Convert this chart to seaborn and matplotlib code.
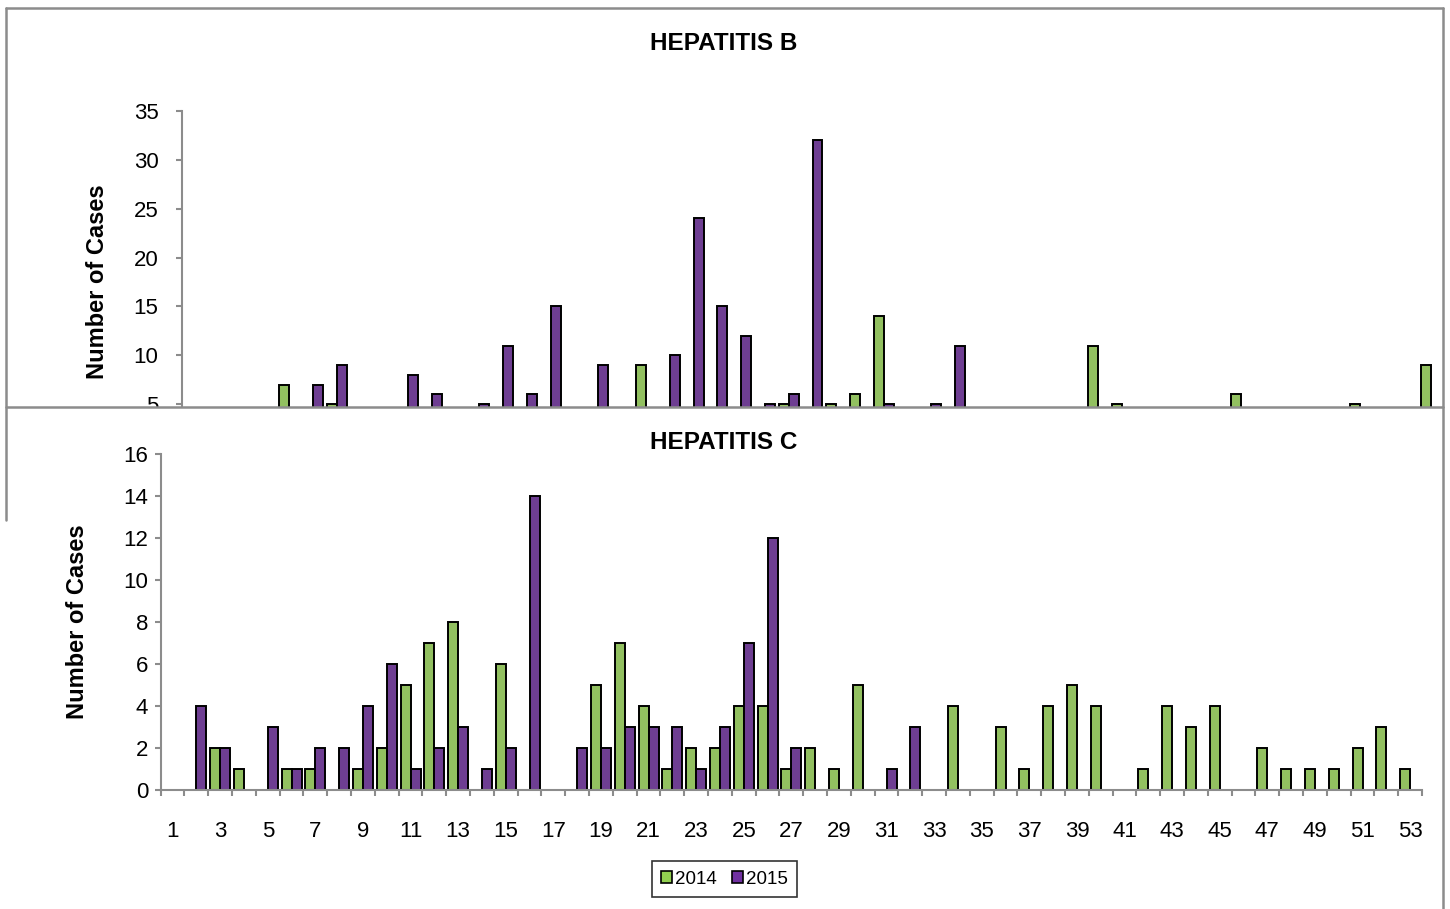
import numpy as np
import pandas as pd
import seaborn as sns
import matplotlib.pyplot as plt
from matplotlib.patches import Rectangle, Patch
from matplotlib.lines import Line2D

sns.set_style('white')
plt.rcParams['font.family'] = ['Liberation Sans', 'DejaVu Sans']
plt.rcParams['text.color'] = 'black'
plt.rcParams['axes.labelcolor'] = 'black'
plt.rcParams['xtick.labelcolor'] = 'black'
plt.rcParams['ytick.labelcolor'] = 'black'

weeks = list(range(1, 54))
years = ['2014', '2015']

# Hepatitis B (lower part of this panel is hidden behind the Hepatitis C chart)
hepb_2014 = [0, 0, 0, 0, 7, 0, 5, 0, 0, 0,
             0, 0, 0, 0, 0, 0, 0, 0, 0, 9,
             0, 0, 0, 0, 0, 5, 0, 5, 6, 14,
             0, 0, 0, 0, 0, 0, 0, 0, 11, 5,
             0, 0, 0, 0, 6, 0, 0, 0, 0, 5,
             0, 0, 9]
hepb_2015 = [0, 0, 0, 0, 0, 7, 9, 0, 0, 8,
             6, 0, 5, 11, 6, 15, 0, 9, 0, 0,
             10, 24, 15, 12, 5, 6, 32, 0, 0, 5,
             0, 5, 11, 0, 0, 0, 0, 0, 0, 0,
             0, 0, 0, 0, 0, 0, 0, 0, 0, 0,
             0, 0, 0]

# Hepatitis C
hepc_2014 = [0, 0, 2, 1, 0, 1, 1, 0, 1, 2,
             5, 7, 8, 0, 6, 0, 0, 0, 5, 7,
             4, 1, 2, 2, 4, 4, 1, 2, 1, 5,
             0, 0, 0, 4, 0, 3, 1, 4, 5, 4,
             0, 1, 4, 3, 4, 0, 2, 1, 1, 1,
             2, 3, 1]
hepc_2015 = [0, 4, 2, 0, 3, 1, 2, 2, 4, 6,
             1, 2, 3, 1, 2, 14, 0, 2, 2, 3,
             3, 3, 1, 3, 7, 12, 2, 0, 0, 0,
             1, 3, 0, 0, 0, 0, 0, 0, 0, 0,
             0, 0, 0, 0, 0, 0, 0, 0, 0, 0,
             0, 0, 0]

colors = {'2014': '#92D050', '2015': '#7030A0'}
gray = '#8c8c8c'


def long_df(a, b):
    return pd.DataFrame({'week': weeks * 2,
                         'cases': a + b,
                         'year': ['2014'] * len(weeks) + ['2015'] * len(weeks)})


W, H = 1450, 909
fig = plt.figure(figsize=(W / 100, H / 100), dpi=100)


def fx(px):
    return px / W


def fy(py):
    return 1 - py / H


def style_axis(ax, ymax, ystep, ypad):
    ax.set_xlim(-0.5, 52.5)
    ax.set_ylim(0, ymax)
    ax.set_yticks(np.arange(0, ymax + 1, ystep))
    sns.despine(ax=ax)
    for s in ['left', 'bottom']:
        ax.spines[s].set_color(gray)
        ax.spines[s].set_linewidth(1.5)
    ax.tick_params(axis='y', which='major', length=4, width=1.5, color=gray,
                   labelsize=16, pad=ypad, left=True, labelcolor='black')
    ax.set_xlabel('')
    for p in ax.patches:
        if p.get_height() == 0:
            p.set_visible(False)


# --- top panel: Hepatitis B
ax1 = fig.add_axes([fx(182), fy(453), fx(1443 - 182), (453 - 111) / H])
ax1.set_zorder(0)
sns.barplot(data=long_df(hepb_2014, hepb_2015), x='week', y='cases', hue='year',
            order=weeks, hue_order=years, palette=colors, width=0.84,
            edgecolor='black', linewidth=1.4, errorbar=None, legend=False, ax=ax1)
style_axis(ax1, 35, 5, 13)
ax1.set_xticks([])
ax1.set_ylabel('Number of Cases', fontsize=17, fontweight='bold', va='center')
ax1.yaxis.set_label_coords((98 - 182) / (1443 - 182), 0.5)

# white chart area of the second chart covers the lower part of the first one
cover = Rectangle((0, 0), fx(1443), fy(407), transform=fig.transFigure,
                  facecolor='white', edgecolor='none', zorder=1)
fig.add_artist(cover)

# --- bottom panel: Hepatitis C
ax2 = fig.add_axes([fx(160.7), fy(790), fx(1422 - 160.7), (790 - 454) / H])
ax2.set_zorder(2)
ax2.patch.set_alpha(0)
sns.barplot(data=long_df(hepc_2014, hepc_2015), x='week', y='cases', hue='year',
            order=weeks, hue_order=years, palette=colors, width=0.84,
            edgecolor='black', linewidth=1.4, errorbar=None, legend=False, ax=ax2)
style_axis(ax2, 16, 2, 5)
ax2.set_xticks(np.arange(0, 53, 2))
ax2.set_xticklabels([str(w) for w in weeks[::2]])
ax2.set_xticks(np.arange(-0.5, 53, 1), minor=True)
ax2.tick_params(axis='x', which='major', length=0, labelsize=16, pad=22,
                labelcolor='black')
ax2.tick_params(axis='x', which='minor', length=4, width=1.5, color=gray,
                bottom=True)
ax2.set_ylabel('Number of Cases', fontsize=17, fontweight='bold', va='center')
ax2.yaxis.set_label_coords((77 - 160.7) / (1422 - 160.7), 0.5)

# titles
fig.text(fx(724), fy(43), 'HEPATITIS B', ha='center', va='center',
         fontsize=17.5, fontweight='bold', zorder=3)
fig.text(fx(724), fy(443), 'HEPATITIS C', ha='center', va='center',
         fontsize=17.5, fontweight='bold', zorder=3)

# chart borders
borders = [
    ([6, 1443], [8, 8]),
    ([6, 6], [8, 520]),
    ([1443, 1443], [8, 909]),
    ([6, 1443], [407, 407]),
]
for xs, ys in borders:
    fig.add_artist(Line2D([fx(x) for x in xs], [fy(y) for y in ys],
                          transform=fig.transFigure, color=gray,
                          linewidth=1.8, zorder=4))

handles = [Patch(facecolor=colors[y], edgecolor='black', linewidth=1.2) for y in years]
leg = fig.legend(handles, years, loc='center', ncol=2,
                 bbox_to_anchor=(fx(724.5), fy(879)), fontsize=13.5,
                 frameon=True, fancybox=False, edgecolor='black',
                 handlelength=0.6, handleheight=0.6, handletextpad=0.15,
                 columnspacing=0.8, borderpad=0.5)
leg.get_frame().set_linewidth(1.2)

plt.savefig('out.png', dpi=100)
